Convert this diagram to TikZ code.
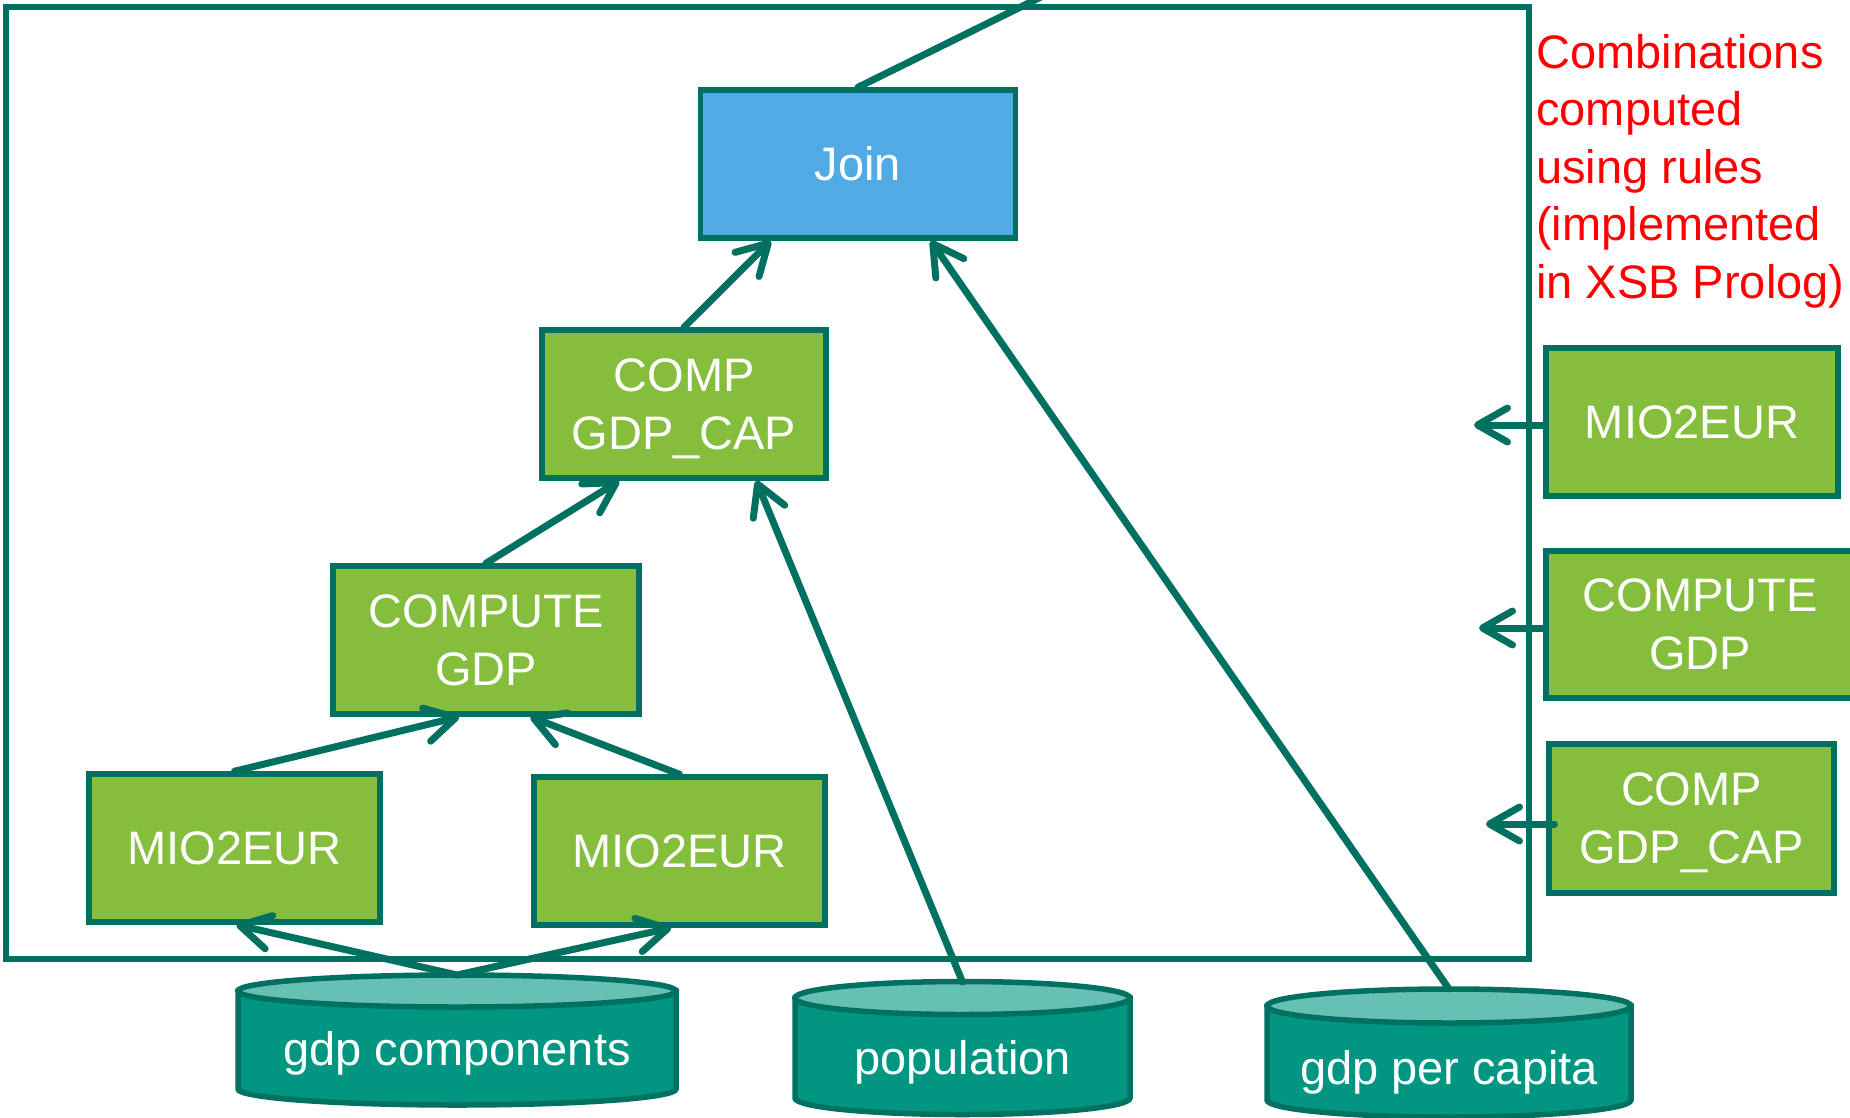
\documentclass[tikz,border=0pt]{standalone}
\usepackage{fontspec}
\setmainfont{Liberation Sans}
\usetikzlibrary{arrows.meta,calc}
\definecolor{edge}{RGB}{0,112,96}
\definecolor{boxgreen}{RGB}{133,189,61}
\definecolor{boxblue}{RGB}{82,170,228}
\definecolor{cylbodyc}{RGB}{0,150,130}
\definecolor{cyltopc}{RGB}{102,192,180}
\definecolor{redtext}{RGB}{255,0,0}
\newcommand\nodepth[1]{\raisebox{0pt}[\height][0pt]{#1}}
\begin{document}
\begin{tikzpicture}[x=1pt,y=-1pt,
  opbox/.style={draw=edge,line width=5.5pt,fill=boxgreen,rectangle,inner sep=0pt,
    text=white,align=center,font=\fontsize{47}{58}\selectfont},
  joinbox/.style={opbox,fill=boxblue},
  arr/.style={draw=edge,line width=7pt,line cap=round,line join=round,
    -{Straight Barb[length=30pt,width=34pt,round]}},
  plain/.style={draw=edge,line width=7pt,line cap=round},
  cylbody/.style={draw=edge,line width=5.5pt,fill=cylbodyc},
  cyltop/.style={draw=edge,line width=5.5pt,fill=cyltopc},
  cyltext/.style={text=white,inner sep=0pt,font=\fontsize{47}{58}\selectfont}]
\useasboundingbox (0,0) rectangle (1850,1117);
\clip (0,0) rectangle (1850,1117);
% frame
\draw[edge,line width=5.5pt] (6,7) rectangle (1529,959);
% boxes
\node[joinbox,minimum width=315pt,minimum height=148pt] (join) at (858,164) {Join};
\node[opbox,minimum width=284pt,minimum height=148pt] (cgc) at (684,404) {COMP\\\nodepth{GDP\_CAP}};
\node[opbox,minimum width=306pt,minimum height=148pt] (cg) at (486,640) {COMPUTE\\GDP};
\node[opbox,minimum width=291pt,minimum height=148pt] (m1) at (234.5,848) {MIO2EUR};
\node[opbox,minimum width=291pt,minimum height=148pt] (m2) at (679.5,851) {MIO2EUR};
\node[opbox,minimum width=292pt,minimum height=148pt] (r1) at (1692,422) {MIO2EUR};
\node[opbox,minimum width=308pt,minimum height=147pt] (r2) at (1700,624.5) {COMPUTE\\GDP};
\node[opbox,minimum width=285pt,minimum height=149pt] (r3) at (1691.5,818.5) {COMP\\\nodepth{GDP\_CAP}};
% red note
\node[text=redtext,align=left,anchor=west,inner sep=0pt,font=\fontsize{47}{57.5}\selectfont] (note) at (1536,171)
  {Combinations\\computed\\using rules\\(implemented\\in XSB Prolog)};
% cylinders
\filldraw[cylbody] (238,991) -- (238,1089) arc[start angle=180,end angle=0,x radius=219,y radius=16] -- (676,991) -- cycle;
\filldraw[cyltop] (457,991) ellipse [x radius=219,y radius=16];
\node[cyltext] (gc) at (457,1053) {gdp components};
\coordinate (gctop) at (457,975);
\filldraw[cylbody] (795,998) -- (795,1098) arc[start angle=180,end angle=0,x radius=167.5,y radius=16.5] -- (1130,998) -- cycle;
\filldraw[cyltop] (962.5,998) ellipse [x radius=167.5,y radius=16.5];
\node[cyltext] (pop) at (962.5,1062) {population};
\coordinate (poptop) at (962.5,982);
\filldraw[cylbody] (1267,1006) -- (1267,1100) arc[start angle=180,end angle=0,x radius=182,y radius=17] -- (1631,1006) -- cycle;
\filldraw[cyltop] (1449,1006) ellipse [x radius=182,y radius=17];
\node[cyltext] (gpc) at (1449,1072) {gdp per capita};
\coordinate (gpctop) at (1449,989);
% connectors
\coordinate (up) at (1047,-6);
\draw[plain] (join.north) -- (up);
\draw[arr] (cgc.north) -- ([xshift=73pt]join.south west);
\draw[arr] (cg.north) -- ([xshift=80pt]cgc.south west);
\draw[arr] (m1.north) -- ([xshift=129pt]cg.south west);
\draw[arr] (m2.north) -- ([xshift=200pt]cg.south west);
\draw[arr] (gctop) -- ([xshift=150pt]m1.south west);
\draw[arr] (gctop) -- ([xshift=140pt]m2.south west);
\draw[arr] (poptop) -- ([xshift=217pt]cgc.south west);
\draw[arr] (gpctop) -- ([xshift=233pt]join.south west);
\coordinate (t1) at (1474,425);
\coordinate (t2) at (1479,628);
\coordinate (t3) at (1486,824);
\draw[arr] ([yshift=-3pt]r1.west) -- (t1);
\draw[arr] ([yshift=-3.5pt]r2.west) -- (t2);
\draw[arr] ([xshift=8pt,yshift=-5.5pt]r3.west) -- (t3);
\end{tikzpicture}
\end{document}
